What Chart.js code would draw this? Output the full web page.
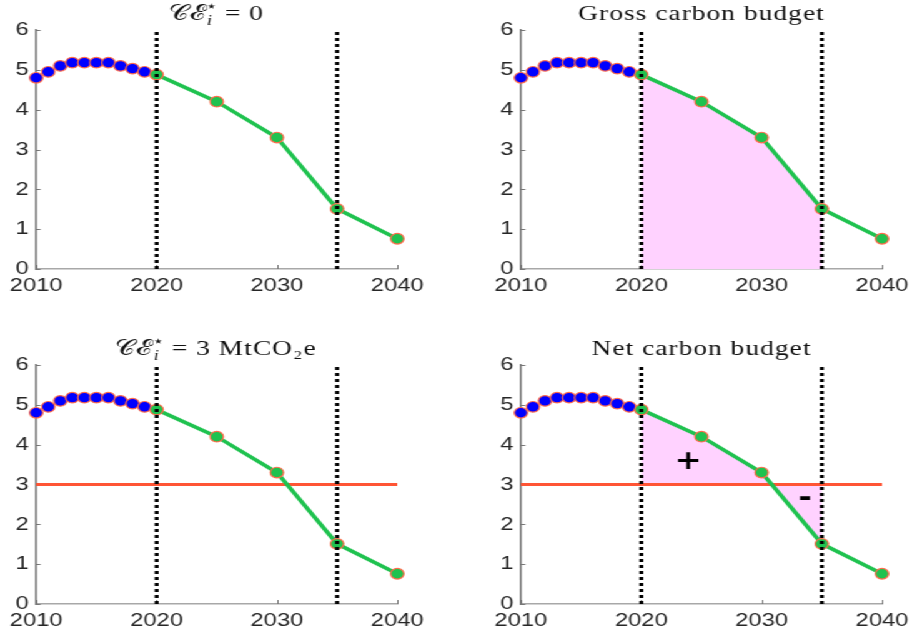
<!DOCTYPE html>
<html><head><meta charset="utf-8">
<script src="https://cdn.jsdelivr.net/npm/chart.js@4.4.1/dist/chart.umd.min.js"></script>
<style>
html,body{margin:0;padding:0;background:#fff;overflow:hidden;width:912px;height:642px;}
#fig{position:absolute;left:0;top:0;width:730px;height:642px;transform-origin:0 0;transform:scaleX(1.249315);}
#fig canvas{position:absolute;}
</style></head><body>
<div id="fig"></div>
<script>
// ---- data ----
const histYears  = [2010, 2011, 2012, 2013, 2014, 2015, 2016, 2017, 2018, 2019];
const histValues = [4.80, 4.95, 5.10, 5.18, 5.18, 5.18, 5.18, 5.10, 5.03, 4.95];
const projYears  = [2020, 2025, 2030, 2035, 2040];
const projValues = [4.88, 4.20, 3.30, 1.51, 0.76];
const policyYears = [2020, 2035];
const xTicks = [2010, 2020, 2030, 2040];
const yTicks = [0, 1, 2, 3, 4, 5, 6];
const panelTitles = ['𝒞ℰ⋆ᵢ = 0', 'Gross carbon budget', '𝒞ℰ⋆ᵢ = 3 MtCO₂e', 'Net carbon budget'];
const panelTargets = [null, null, 3, 3];       // CE* horizontal line
const panelBudgetBase = [null, 0, null, 3];    // shaded budget area base
const panelShowSigns = [false, false, false, true];
const signLabels = ['+', '-'];
const signYears  = [2023.9, 2033.6];
const signValues = [3.57, 2.62];

// ---- styles ----
const GREEN = '#1fc24f', EDGE = '#ff6a4a', BLUE = '#0000ff', RED = '#ff5535', PINK = '#ffd2ff';
const TICK_FONT = {family: '"Liberation Sans", Arial, sans-serif', size: 19};
const SERIF = '"Liberation Serif", "DejaVu Serif", serif';

const positions = [[0, 0], [388, 0], [0, 335], [388, 335]];

const tickMarks = {
  id: 'tickMarks',
  beforeDatasetsDraw(chart) {
    const {ctx, chartArea: ca, scales: {x, y}} = chart;
    ctx.save();
    ctx.strokeStyle = '#777'; ctx.lineWidth = 1;
    ctx.beginPath();
    yTicks.forEach(v => { const py = Math.round(y.getPixelForValue(v)) + 0.5; ctx.moveTo(ca.left, py); ctx.lineTo(ca.left + 3.5, py); });
    xTicks.forEach(v => { const px = Math.round(x.getPixelForValue(v)) + 0.5; ctx.moveTo(px, ca.bottom); ctx.lineTo(px, ca.bottom - 4); });
    ctx.stroke();
    ctx.restore();
  }
};

const mathTitle = {
  id: 'mathTitle',
  afterDraw(chart, args, opts) {
    const text = opts.text; if (!text) return;
    const {ctx, chartArea: ca} = chart;
    const parts = text.split('⋆ᵢ');
    const fs = 22;
    const main = `${fs}px ${SERIF}`;
    const small = `${Math.round(fs * 0.68)}px "DejaVu Sans", sans-serif`;
    const italic = `italic ${Math.round(fs * 0.7)}px ${SERIF}`;
    ctx.save();
    ctx.fillStyle = '#111';
    ctx.textBaseline = 'alphabetic';
    ctx.textAlign = 'left';
    if ('letterSpacing' in ctx) ctx.letterSpacing = '0.8px';
    let base = '', rest = text, wScript = 0;
    if (parts.length === 2) { base = parts[0]; rest = parts[1]; }
    ctx.font = main;
    const wBase = base ? ctx.measureText(base).width : 0;
    const wRest = ctx.measureText(rest).width;
    if (base) {
      ctx.font = small; const ws = ctx.measureText('⋆').width;
      ctx.font = italic; const wi = ctx.measureText('i').width;
      wScript = Math.max(ws, wi) - 1;
    }
    const total = wBase + wScript + wRest;
    let x = (ca.left + ca.right) / 2 - total / 2;
    const yb = ca.top - 10;
    ctx.font = main;
    if (base) { ctx.fillText(base, x, yb); x += wBase - 1;
      ctx.font = small; ctx.fillText('⋆', x, yb - 9);
      ctx.font = italic; ctx.fillText('i', x + 1, yb + 5);
      x += wScript; ctx.font = main; }
    ctx.fillText(rest, x, yb);
    ctx.restore();
  }
};

const signsPlugin = {
  id: 'signs',
  afterDatasetsDraw(chart, args, opts) {
    if (!opts.show) return;
    const {ctx, scales: {x, y}} = chart;
    ctx.save();
    ctx.fillStyle = '#000';
    ctx.font = `bold 26px "DejaVu Sans", sans-serif`;
    ctx.textAlign = 'center'; ctx.textBaseline = 'middle';
    signLabels.forEach((s, i) => ctx.fillText(s, x.getPixelForValue(signYears[i]), y.getPixelForValue(signValues[i])));
    ctx.restore();
  }
};

function makeChart(i) {
  const c = document.createElement('canvas');
  c.width = 345; c.height = 307;
  c.style.left = positions[i][0] + 'px'; c.style.top = positions[i][1] + 'px';
  c.style.width = '345px'; c.style.height = '307px';
  document.getElementById('fig').appendChild(c);

  const hist = histYears.map((yr, k) => ({x: yr, y: histValues[k]}));
  const proj = projYears.map((yr, k) => ({x: yr, y: projValues[k]}));
  const datasets = [];
  policyYears.forEach(yr => datasets.push({
    data: [{x: yr, y: yTicks[0]}, {x: yr, y: yTicks[yTicks.length - 1]}],
    borderColor: '#000', borderWidth: 3.2, borderDash: [3, 3], pointRadius: 0, order: 0, clip: false
  }));
  datasets.push({
    data: proj, borderColor: GREEN, borderWidth: 3.5, pointRadius: 5.3, pointBackgroundColor: GREEN,
    pointBorderColor: EDGE, pointBorderWidth: 1.2, order: 1, clip: false
  });
  datasets.push({
    data: hist, showLine: false, pointRadius: 5.3, pointBackgroundColor: BLUE,
    pointBorderColor: EDGE, pointBorderWidth: 1.2, order: 2, clip: false
  });
  if (panelTargets[i] !== null) datasets.push({
    data: [{x: xTicks[0], y: panelTargets[i]}, {x: xTicks[xTicks.length - 1], y: panelTargets[i]}],
    borderColor: RED, borderWidth: 2.8, pointRadius: 0, order: 3, clip: false
  });
  if (panelBudgetBase[i] !== null) {
    const area = proj.filter(p => p.x >= policyYears[0] && p.x <= policyYears[1]);
    datasets.push({
      data: area, borderWidth: 0, borderColor: 'rgba(0,0,0,0)', backgroundColor: PINK, pointRadius: 0,
      fill: panelBudgetBase[i] === 0 ? 'origin' : {value: panelBudgetBase[i]}, order: 5
    });
  }

  new Chart(c, {
    type: 'line',
    data: {datasets},
    plugins: [tickMarks, mathTitle, signsPlugin],
    options: {
      responsive: false, animation: false, devicePixelRatio: 1,
      layout: {padding: {left: 5, right: 27, top: 30, bottom: 8}},
      plugins: {legend: {display: false}, tooltip: {enabled: false},
        mathTitle: {text: panelTitles[i]}, signs: {show: panelShowSigns[i]}},
      scales: {
        x: {type: 'linear', min: xTicks[0], max: xTicks[xTicks.length - 1],
          afterBuildTicks: s => { s.ticks = xTicks.map(v => ({value: v})); },
          afterFit: s => { s.height = 30; },
          ticks: {color: '#262626', font: TICK_FONT, padding: 5, maxRotation: 0, autoSkip: false,
            callback: v => String(v)},
          grid: {display: true, drawOnChartArea: false, drawTicks: false, color: 'rgba(0,0,0,0)'},
          border: {display: true, color: '#a8a8a8', width: 1.5}},
        y: {min: yTicks[0], max: yTicks[yTicks.length - 1],
          afterBuildTicks: s => { s.ticks = yTicks.map(v => ({value: v})); },
          afterFit: s => { s.width = 24; },
          ticks: {color: '#262626', font: TICK_FONT, padding: 6, callback: v => String(v)},
          grid: {display: true, drawOnChartArea: false, drawTicks: false, color: 'rgba(0,0,0,0)'},
          border: {display: true, color: '#7a7a7a', width: 1.6}}
      }
    }
  });
}
[0, 1, 2, 3].forEach(makeChart);
</script>
</body></html>
